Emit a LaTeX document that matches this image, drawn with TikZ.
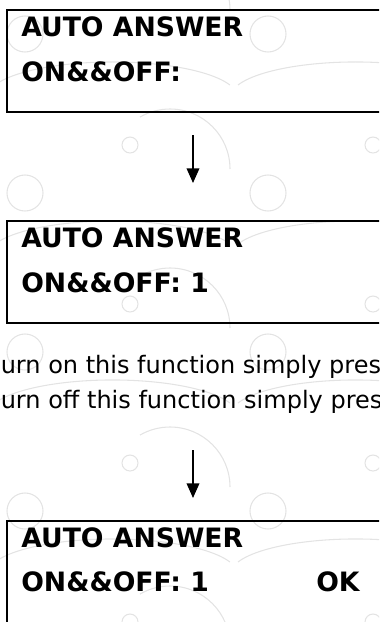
\documentclass[tikz,border=0pt]{standalone}
\usepackage{fontspec}
\setmainfont{DejaVu Sans}
\usetikzlibrary{arrows.meta}
\tikzset{
  screenbox/.style={draw,line width=1.5pt,anchor=north west,inner sep=0pt,
    minimum width=315pt,minimum height=76.5pt},
  screenline/.style={anchor=base west,inner sep=0pt,font=\fontsize{20}{24}\selectfont\bfseries},
  noteline/.style={anchor=base west,inner sep=0pt,font=\fontsize{18}{22}\selectfont},
  flow/.style={line width=1.1pt,-{Triangle[length=11pt,width=9.5pt]}},
  watermark/.style={draw=black!11,line width=0.8pt}
}
\begin{document}
\begin{tikzpicture}[x=0.75pt,y=-0.75pt]
  \useasboundingbox (0,0) rectangle (379,622);
  \clip (0,0) rectangle (379,622);
  % faint background pattern
  \foreach \i in {-1,0,1} {
    \foreach \j in {-1,0,1,2,3,4} {
      \begin{scope}[shift={(\i*243,\j*159)}]
        \draw[watermark] (130,145) circle[radius=8];
        \draw[watermark] (268,193) circle[radius=18];
        \draw[watermark] (-5,85) arc[start angle=200,end angle=340,x radius=125,y radius=35];
        \draw[watermark] (230,10) arc[start angle=0,end angle=-120,radius=60];
      \end{scope}
    }
  }
  % screens
  \node[screenbox] (scrA) at (6,9) {};
  \node[screenline] (scrAtop) at (21,36) {AUTO ANSWER};
  \node[screenline] (scrAbot) at (21,81) {ON\&\&OFF:};

  \node[screenbox] (scrB) at (6,220) {};
  \node[screenline] (scrBtop) at (21,247) {AUTO ANSWER};
  \node[screenline] (scrBbot) at (21,292) {ON\&\&OFF: 1};

  \node[screenbox,minimum height=105pt] (scrC) at (6,520) {};
  \node[screenline] (scrCtop) at (21,547) {AUTO ANSWER};
  \node[screenline] (scrCbot) at (21,591) {ON\&\&OFF: 1};
  \node[screenline] (scrCok) at (316,591) {OK};

  % instructions
  \node[noteline] (noteOn) at (0.5,373) {urn on this function simply pres};
  \node[noteline] (noteOff) at (0.5,408) {urn off this function simply pres};

  % arrows
  \coordinate (arrAstart) at (193,135);
  \coordinate (arrAend) at (193,183);
  \coordinate (arrBstart) at (193,450);
  \coordinate (arrBend) at (193,498);
  \draw[flow] (arrAstart) -- (arrAend);
  \draw[flow] (arrBstart) -- (arrBend);
\end{tikzpicture}
\end{document}
